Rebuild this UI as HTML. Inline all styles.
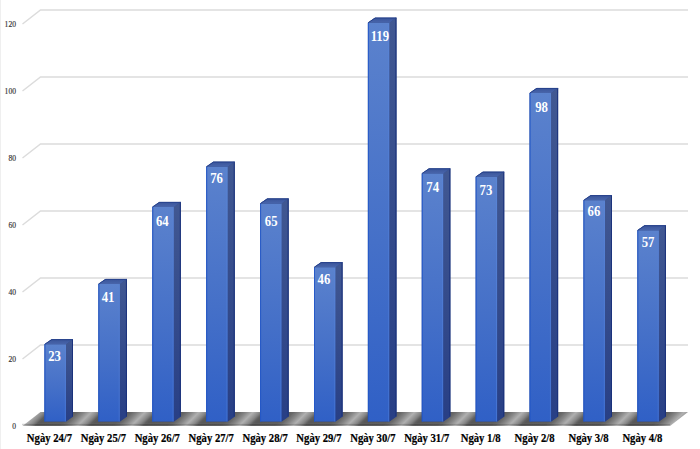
<!DOCTYPE html>
<html><head><meta charset="utf-8"><style>
html,body{margin:0;padding:0;background:#fff;width:700px;height:449px;overflow:hidden}
svg{display:block}
.yl{font-family:"Liberation Serif",serif;font-size:7.6px;fill:#333;stroke:#333;stroke-width:0.15}
.vl{font-family:"Liberation Serif",serif;font-size:13.3px;font-weight:bold;fill:#fff}
.cl{font-family:"Liberation Serif",serif;font-size:11px;font-weight:bold;fill:#000;stroke:#000;stroke-width:0.2}
</style></head><body>
<svg width="700" height="449" viewBox="0 0 700 449">
<defs>
<linearGradient id="fl" gradientUnits="userSpaceOnUse" x1="0" y1="0" x2="53.9" y2="0" spreadMethod="repeat" gradientTransform="translate(44.5 418.5) skewX(-45)">
<stop offset="0" stop-color="#585858"/>
<stop offset="0.40" stop-color="#5c5c5c"/>
<stop offset="0.50" stop-color="#686868"/>
<stop offset="0.62" stop-color="#878787"/>
<stop offset="0.75" stop-color="#b0b0b0"/>
<stop offset="0.88" stop-color="#868686"/>
<stop offset="0.96" stop-color="#5e5e5e"/>
<stop offset="1" stop-color="#585858"/>
</linearGradient>
<linearGradient id="fv" x1="0" y1="0" x2="0" y2="1">
<stop offset="0" stop-color="#5b82cd"/>
<stop offset="0.55" stop-color="#4570c8"/>
<stop offset="1" stop-color="#3060c6"/>
</linearGradient>
<linearGradient id="sv" x1="0" y1="0" x2="0" y2="1">
<stop offset="0" stop-color="#415892"/>
<stop offset="1" stop-color="#283f85"/>
</linearGradient>
<filter id="bl" x="-5%" y="-50%" width="110%" height="200%"><feGaussianBlur stdDeviation="0.7"/></filter>
<linearGradient id="tv" x1="0" y1="0" x2="0" y2="1">
<stop offset="0" stop-color="#3a5499"/>
<stop offset="1" stop-color="#4865ab"/>
</linearGradient>
<linearGradient id="fb" x1="0" y1="0" x2="0" y2="1">
<stop offset="0" stop-color="#fff" stop-opacity="0"/>
<stop offset="0.6" stop-color="#000" stop-opacity="0.18"/>
<stop offset="1" stop-color="#fff" stop-opacity="0"/>
</linearGradient>
</defs>
<rect x="0" y="0" width="1" height="449" fill="#efefef"/>
<path d="M22.5 359.00 L40.5 345.00 L688 345.00" fill="none" stroke="#dcdcdc" stroke-width="1.5"/>
<path d="M22.5 292.00 L40.5 278.00 L688 278.00" fill="none" stroke="#dcdcdc" stroke-width="1.5"/>
<path d="M22.5 225.00 L40.5 211.00 L688 211.00" fill="none" stroke="#dcdcdc" stroke-width="1.5"/>
<path d="M22.5 158.00 L40.5 144.00 L688 144.00" fill="none" stroke="#dcdcdc" stroke-width="1.5"/>
<path d="M22.5 91.00 L40.5 77.00 L688 77.00" fill="none" stroke="#dcdcdc" stroke-width="1.5"/>
<path d="M22.5 24.00 L40.5 10.00 L688 10.00" fill="none" stroke="#dcdcdc" stroke-width="1.5"/>
<text x="16" y="429.00" text-anchor="end" class="yl">0</text>
<text x="16" y="362.00" text-anchor="end" class="yl">20</text>
<text x="16" y="295.00" text-anchor="end" class="yl">40</text>
<text x="16" y="228.00" text-anchor="end" class="yl">60</text>
<text x="16" y="161.00" text-anchor="end" class="yl">80</text>
<text x="16" y="94.00" text-anchor="end" class="yl">100</text>
<text x="16" y="27.00" text-anchor="end" class="yl">120</text>
<g filter="url(#bl)"><polygon points="22.5,426 40.5,412 688,412 670,426" fill="url(#fl)"/>
<rect x="22" y="422.5" width="648" height="3.5" fill="url(#fb)"/></g>
<polygon points="44.50,421.50 44.50,344.25 51.50,339.25 73.00,339.25 73.00,416.50 66.00,421.50" fill="#2c4486"/>
<rect x="44.50" y="344.25" width="21.9" height="77.25" fill="url(#fv)"/>
<rect x="44.50" y="344.25" width="1" height="77.25" fill="#2257c8" opacity="0.9"/>
<rect x="64.80" y="345.25" width="1" height="76.25" fill="#5a8ae0" opacity="0.45"/>
<polygon points="66.00,344.25 73.00,339.25 73.00,416.50 66.00,421.50" fill="url(#sv)"/>
<rect x="72.00" y="339.25" width="1" height="77.25" fill="#18307a" opacity="0.9"/>
<polygon points="44.50,344.25 51.50,339.25 73.00,339.25 66.00,344.25" fill="url(#tv)"/>
<path d="M44.80 344.25 L51.80 339.65 L73.00 339.65" fill="none" stroke="#24408a" stroke-width="0.9"/>
<text transform="translate(54.55 360.90) scale(0.96 1.07)" text-anchor="middle" class="vl">23</text>
<text transform="translate(49.50 442) scale(0.97 1.04)" text-anchor="middle" class="cl">Ngày 24/7</text>
<polygon points="98.40,421.50 98.40,283.95 105.40,278.95 126.90,278.95 126.90,416.50 119.90,421.50" fill="#2c4486"/>
<rect x="98.40" y="283.95" width="21.9" height="137.55" fill="url(#fv)"/>
<rect x="98.40" y="283.95" width="1" height="137.55" fill="#2257c8" opacity="0.9"/>
<rect x="118.70" y="284.95" width="1" height="136.55" fill="#5a8ae0" opacity="0.45"/>
<polygon points="119.90,283.95 126.90,278.95 126.90,416.50 119.90,421.50" fill="url(#sv)"/>
<rect x="125.90" y="278.95" width="1" height="137.55" fill="#18307a" opacity="0.9"/>
<polygon points="98.40,283.95 105.40,278.95 126.90,278.95 119.90,283.95" fill="url(#tv)"/>
<path d="M98.70 283.95 L105.70 279.35 L126.90 279.35" fill="none" stroke="#24408a" stroke-width="0.9"/>
<text transform="translate(108.05 301.90) scale(0.96 1.07)" text-anchor="middle" class="vl">41</text>
<text transform="translate(103.40 442) scale(0.97 1.04)" text-anchor="middle" class="cl">Ngày 25/7</text>
<polygon points="152.30,421.50 152.30,206.90 159.30,201.90 180.80,201.90 180.80,416.50 173.80,421.50" fill="#2c4486"/>
<rect x="152.30" y="206.90" width="21.9" height="214.60" fill="url(#fv)"/>
<rect x="152.30" y="206.90" width="1" height="214.60" fill="#2257c8" opacity="0.9"/>
<rect x="172.60" y="207.90" width="1" height="213.60" fill="#5a8ae0" opacity="0.45"/>
<polygon points="173.80,206.90 180.80,201.90 180.80,416.50 173.80,421.50" fill="url(#sv)"/>
<rect x="179.80" y="201.90" width="1" height="214.60" fill="#18307a" opacity="0.9"/>
<polygon points="152.30,206.90 159.30,201.90 180.80,201.90 173.80,206.90" fill="url(#tv)"/>
<path d="M152.60 206.90 L159.60 202.30 L180.80 202.30" fill="none" stroke="#24408a" stroke-width="0.9"/>
<text transform="translate(162.35 225.60) scale(0.96 1.07)" text-anchor="middle" class="vl">64</text>
<text transform="translate(157.30 442) scale(0.97 1.04)" text-anchor="middle" class="cl">Ngày 26/7</text>
<polygon points="206.20,421.50 206.20,166.70 213.20,161.70 234.70,161.70 234.70,416.50 227.70,421.50" fill="#2c4486"/>
<rect x="206.20" y="166.70" width="21.9" height="254.80" fill="url(#fv)"/>
<rect x="206.20" y="166.70" width="1" height="254.80" fill="#2257c8" opacity="0.9"/>
<rect x="226.50" y="167.70" width="1" height="253.80" fill="#5a8ae0" opacity="0.45"/>
<polygon points="227.70,166.70 234.70,161.70 234.70,416.50 227.70,421.50" fill="url(#sv)"/>
<rect x="233.70" y="161.70" width="1" height="254.80" fill="#18307a" opacity="0.9"/>
<polygon points="206.20,166.70 213.20,161.70 234.70,161.70 227.70,166.70" fill="url(#tv)"/>
<path d="M206.50 166.70 L213.50 162.10 L234.70 162.10" fill="none" stroke="#24408a" stroke-width="0.9"/>
<text transform="translate(216.50 183.20) scale(0.96 1.07)" text-anchor="middle" class="vl">76</text>
<text transform="translate(211.20 442) scale(0.97 1.04)" text-anchor="middle" class="cl">Ngày 27/7</text>
<polygon points="260.10,421.50 260.10,203.55 267.10,198.55 288.60,198.55 288.60,416.50 281.60,421.50" fill="#2c4486"/>
<rect x="260.10" y="203.55" width="21.9" height="217.95" fill="url(#fv)"/>
<rect x="260.10" y="203.55" width="1" height="217.95" fill="#2257c8" opacity="0.9"/>
<rect x="280.40" y="204.55" width="1" height="216.95" fill="#5a8ae0" opacity="0.45"/>
<polygon points="281.60,203.55 288.60,198.55 288.60,416.50 281.60,421.50" fill="url(#sv)"/>
<rect x="287.60" y="198.55" width="1" height="217.95" fill="#18307a" opacity="0.9"/>
<polygon points="260.10,203.55 267.10,198.55 288.60,198.55 281.60,203.55" fill="url(#tv)"/>
<path d="M260.40 203.55 L267.40 198.95 L288.60 198.95" fill="none" stroke="#24408a" stroke-width="0.9"/>
<text transform="translate(271.20 225.60) scale(0.96 1.07)" text-anchor="middle" class="vl">65</text>
<text transform="translate(265.10 442) scale(0.97 1.04)" text-anchor="middle" class="cl">Ngày 28/7</text>
<polygon points="314.00,421.50 314.00,267.20 321.00,262.20 342.50,262.20 342.50,416.50 335.50,421.50" fill="#2c4486"/>
<rect x="314.00" y="267.20" width="21.9" height="154.30" fill="url(#fv)"/>
<rect x="314.00" y="267.20" width="1" height="154.30" fill="#2257c8" opacity="0.9"/>
<rect x="334.30" y="268.20" width="1" height="153.30" fill="#5a8ae0" opacity="0.45"/>
<polygon points="335.50,267.20 342.50,262.20 342.50,416.50 335.50,421.50" fill="url(#sv)"/>
<rect x="341.50" y="262.20" width="1" height="154.30" fill="#18307a" opacity="0.9"/>
<polygon points="314.00,267.20 321.00,262.20 342.50,262.20 335.50,267.20" fill="url(#tv)"/>
<path d="M314.30 267.20 L321.30 262.60 L342.50 262.60" fill="none" stroke="#24408a" stroke-width="0.9"/>
<text transform="translate(323.90 283.90) scale(0.96 1.07)" text-anchor="middle" class="vl">46</text>
<text transform="translate(319.00 442) scale(0.97 1.04)" text-anchor="middle" class="cl">Ngày 29/7</text>
<polygon points="367.90,421.50 367.90,22.65 374.90,17.65 396.40,17.65 396.40,416.50 389.40,421.50" fill="#2c4486"/>
<rect x="367.90" y="22.65" width="21.9" height="398.85" fill="url(#fv)"/>
<rect x="367.90" y="22.65" width="1" height="398.85" fill="#2257c8" opacity="0.9"/>
<rect x="388.20" y="23.65" width="1" height="397.85" fill="#5a8ae0" opacity="0.45"/>
<polygon points="389.40,22.65 396.40,17.65 396.40,416.50 389.40,421.50" fill="url(#sv)"/>
<rect x="395.40" y="17.65" width="1" height="398.85" fill="#18307a" opacity="0.9"/>
<polygon points="367.90,22.65 374.90,17.65 396.40,17.65 389.40,22.65" fill="url(#tv)"/>
<path d="M368.20 22.65 L375.20 18.05 L396.40 18.05" fill="none" stroke="#24408a" stroke-width="0.9"/>
<text transform="translate(379.90 40.90) scale(0.96 1.07)" text-anchor="middle" class="vl">119</text>
<text transform="translate(372.90 442) scale(0.97 1.04)" text-anchor="middle" class="cl">Ngày 30/7</text>
<polygon points="421.80,421.50 421.80,173.40 428.80,168.40 450.30,168.40 450.30,416.50 443.30,421.50" fill="#2c4486"/>
<rect x="421.80" y="173.40" width="21.9" height="248.10" fill="url(#fv)"/>
<rect x="421.80" y="173.40" width="1" height="248.10" fill="#2257c8" opacity="0.9"/>
<rect x="442.10" y="174.40" width="1" height="247.10" fill="#5a8ae0" opacity="0.45"/>
<polygon points="443.30,173.40 450.30,168.40 450.30,416.50 443.30,421.50" fill="url(#sv)"/>
<rect x="449.30" y="168.40" width="1" height="248.10" fill="#18307a" opacity="0.9"/>
<polygon points="421.80,173.40 428.80,168.40 450.30,168.40 443.30,173.40" fill="url(#tv)"/>
<path d="M422.10 173.40 L429.10 168.80 L450.30 168.80" fill="none" stroke="#24408a" stroke-width="0.9"/>
<text transform="translate(432.70 191.90) scale(0.96 1.07)" text-anchor="middle" class="vl">74</text>
<text transform="translate(426.80 442) scale(0.97 1.04)" text-anchor="middle" class="cl">Ngày 31/7</text>
<polygon points="475.70,421.50 475.70,176.75 482.70,171.75 504.20,171.75 504.20,416.50 497.20,421.50" fill="#2c4486"/>
<rect x="475.70" y="176.75" width="21.9" height="244.75" fill="url(#fv)"/>
<rect x="475.70" y="176.75" width="1" height="244.75" fill="#2257c8" opacity="0.9"/>
<rect x="496.00" y="177.75" width="1" height="243.75" fill="#5a8ae0" opacity="0.45"/>
<polygon points="497.20,176.75 504.20,171.75 504.20,416.50 497.20,421.50" fill="url(#sv)"/>
<rect x="503.20" y="171.75" width="1" height="244.75" fill="#18307a" opacity="0.9"/>
<polygon points="475.70,176.75 482.70,171.75 504.20,171.75 497.20,176.75" fill="url(#tv)"/>
<path d="M476.00 176.75 L483.00 172.15 L504.20 172.15" fill="none" stroke="#24408a" stroke-width="0.9"/>
<text transform="translate(485.90 194.60) scale(0.96 1.07)" text-anchor="middle" class="vl">73</text>
<text transform="translate(480.70 442) scale(0.97 1.04)" text-anchor="middle" class="cl">Ngày 1/8</text>
<polygon points="529.60,421.50 529.60,93.00 536.60,88.00 558.10,88.00 558.10,416.50 551.10,421.50" fill="#2c4486"/>
<rect x="529.60" y="93.00" width="21.9" height="328.50" fill="url(#fv)"/>
<rect x="529.60" y="93.00" width="1" height="328.50" fill="#2257c8" opacity="0.9"/>
<rect x="549.90" y="94.00" width="1" height="327.50" fill="#5a8ae0" opacity="0.45"/>
<polygon points="551.10,93.00 558.10,88.00 558.10,416.50 551.10,421.50" fill="url(#sv)"/>
<rect x="557.10" y="88.00" width="1" height="328.50" fill="#18307a" opacity="0.9"/>
<polygon points="529.60,93.00 536.60,88.00 558.10,88.00 551.10,93.00" fill="url(#tv)"/>
<path d="M529.90 93.00 L536.90 88.40 L558.10 88.40" fill="none" stroke="#24408a" stroke-width="0.9"/>
<text transform="translate(541.55 111.90) scale(0.96 1.07)" text-anchor="middle" class="vl">98</text>
<text transform="translate(534.60 442) scale(0.97 1.04)" text-anchor="middle" class="cl">Ngày 2/8</text>
<polygon points="583.50,421.50 583.50,200.20 590.50,195.20 612.00,195.20 612.00,416.50 605.00,421.50" fill="#2c4486"/>
<rect x="583.50" y="200.20" width="21.9" height="221.30" fill="url(#fv)"/>
<rect x="583.50" y="200.20" width="1" height="221.30" fill="#2257c8" opacity="0.9"/>
<rect x="603.80" y="201.20" width="1" height="220.30" fill="#5a8ae0" opacity="0.45"/>
<polygon points="605.00,200.20 612.00,195.20 612.00,416.50 605.00,421.50" fill="url(#sv)"/>
<rect x="611.00" y="195.20" width="1" height="221.30" fill="#18307a" opacity="0.9"/>
<polygon points="583.50,200.20 590.50,195.20 612.00,195.20 605.00,200.20" fill="url(#tv)"/>
<path d="M583.80 200.20 L590.80 195.60 L612.00 195.60" fill="none" stroke="#24408a" stroke-width="0.9"/>
<text transform="translate(593.90 216.20) scale(0.96 1.07)" text-anchor="middle" class="vl">66</text>
<text transform="translate(588.50 442) scale(0.97 1.04)" text-anchor="middle" class="cl">Ngày 3/8</text>
<polygon points="637.40,421.50 637.40,230.35 644.40,225.35 665.90,225.35 665.90,416.50 658.90,421.50" fill="#2c4486"/>
<rect x="637.40" y="230.35" width="21.9" height="191.15" fill="url(#fv)"/>
<rect x="637.40" y="230.35" width="1" height="191.15" fill="#2257c8" opacity="0.9"/>
<rect x="657.70" y="231.35" width="1" height="190.15" fill="#5a8ae0" opacity="0.45"/>
<polygon points="658.90,230.35 665.90,225.35 665.90,416.50 658.90,421.50" fill="url(#sv)"/>
<rect x="664.90" y="225.35" width="1" height="191.15" fill="#18307a" opacity="0.9"/>
<polygon points="637.40,230.35 644.40,225.35 665.90,225.35 658.90,230.35" fill="url(#tv)"/>
<path d="M637.70 230.35 L644.70 225.75 L665.90 225.75" fill="none" stroke="#24408a" stroke-width="0.9"/>
<text transform="translate(648.00 246.60) scale(0.96 1.07)" text-anchor="middle" class="vl">57</text>
<text transform="translate(642.40 442) scale(0.97 1.04)" text-anchor="middle" class="cl">Ngày 4/8</text>
</svg></body></html>
